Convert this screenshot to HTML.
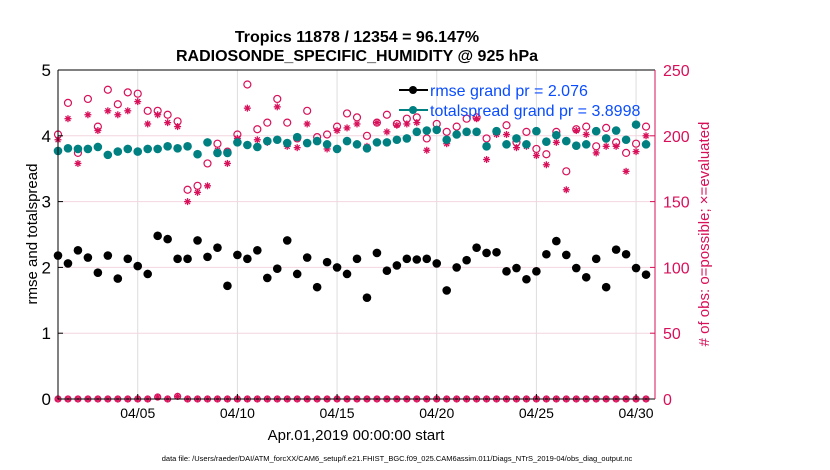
<!DOCTYPE html>
<html><head><meta charset="utf-8"><style>
body{margin:0;background:#fff;}
svg{display:block;font-family:"Liberation Sans",Arial,sans-serif;}
</style></head><body>
<svg id="chart" width="830" height="470" viewBox="0 0 830 470">
<text x="357" y="42" text-anchor="middle" font-size="16" font-weight="bold">Tropics 11878 / 12354 = 96.147%</text>
<text x="357" y="61" text-anchor="middle" font-size="16" font-weight="bold">RADIOSONDE_SPECIFIC_HUMIDITY @ 925 hPa</text>
<g id="grid"></g>
<g id="marks"></g>
<g id="axes"></g>
<text transform="translate(37,234) rotate(-90)" text-anchor="middle" font-size="15">rmse and totalspread</text>
<text transform="translate(709,234) rotate(-90)" text-anchor="middle" font-size="15" fill="#d8105a"># of obs: o=possible; ×=evaluated</text>
<text x="356" y="440" text-anchor="middle" font-size="15">Apr.01,2019 00:00:00 start</text>
<text x="397" y="461" text-anchor="middle" font-size="7.5">data file: /Users/raeder/DAI/ATM_forcXX/CAM6_setup/f.e21.FHIST_BGC.f09_025.CAM6assim.011/Diags_NTrS_2019-04/obs_diag_output.nc</text>
<g>
<line x1="399" y1="90" x2="428" y2="90" stroke="#000" stroke-width="2"/>
<circle cx="413" cy="90" r="4" fill="#000"/>
<text x="430" y="96" font-size="16" fill="#0a4dff">rmse grand pr = 2.076</text>
<line x1="399" y1="110" x2="428" y2="110" stroke="#008080" stroke-width="2"/>
<circle cx="413" cy="110" r="4" fill="#008080"/>
<text x="430" y="116" font-size="16" fill="#0a4dff">totalspread grand pr = 3.8998</text>
</g>
</svg>
<script>
const rmse=[2.18,2.06,2.26,2.15,1.92,2.18,1.83,2.13,2.02,1.90,2.48,2.43,2.13,2.13,2.41,2.16,2.30,1.72,2.19,2.13,2.26,1.84,1.98,2.41,1.90,2.15,1.70,2.08,2.00,1.90,2.13,
1.54,2.22,1.95,2.03,2.13,2.12,2.13,2.06,1.65,2.00,2.11,2.30,2.22,2.23,1.94,1.99,1.82,1.94,2.20,2.40,2.19,1.99,1.85,2.13,1.70,2.27,2.20,1.99,1.89];
const spread=[3.77,3.81,3.80,3.80,3.83,3.71,3.76,3.80,3.76,3.80,3.80,3.84,3.81,3.84,3.72,3.90,3.74,3.74,3.90,3.86,3.83,3.92,3.94,3.89,3.98,3.89,3.92,3.87,3.80,3.92,3.87,
3.81,3.90,3.90,3.94,3.96,4.06,4.08,4.09,3.94,4.02,4.06,4.06,3.84,4.07,3.87,3.96,3.87,4.07,3.91,4.01,3.92,3.85,3.87,4.07,3.96,4.08,3.94,4.17,3.87];
const possible=[201,225,187,228,207,235,224,233,232,219,219,216,211,159,162,179,194,188,201,239,205,210,228,210,198,219,199,201,207,217,214,
200,210,216,209,213,214,198,209,203,207,213,214,198,203,208,195,203,190,186,203,173,205,207,192,206,195,187,194,207];
const evaluated=[197,213,179,216,204,219,216,219,226,209,216,210,207,150,157,162,189,179,198,221,197,195,222,192,191,209,196,190,204,206,209,
192,210,203,208,209,210,189,205,194,201,203,213,182,201,201,191,192,185,178,195,159,204,201,187,192,192,173,188,200];
const zeroObs=[0,0,0,0,0,0,0,0,0,0,1.5,0,2,0,0,0,0,0,0,0,0,0,0,0,0,0,0,0,0,0,0,0,0,0,0,0,0,0,0,0,0,0,0,0,0,0,0,0,0,0,0,0,0,0,0,0,0,0,0,0];
const leftTicks=[0,1,2,3,4,5];
const rightTicks=[0,50,100,150,200,250];
const dateTicks=[4,9,14,19,24,29];
const dateLabels=["04/05","04/10","04/15","04/20","04/25","04/30"];

const L=58,R=655,T=70,B=399;
const X=d=>L+d*(R-L)/29.95;
const YL=v=>B-v*(B-T)/5;
const YR=v=>B-v*(B-T)/250;
const dayOf=i=>i*0.5;
const NS="http://www.w3.org/2000/svg";
function mk(tag,attrs,parent){const e=document.createElementNS(NS,tag);for(const k in attrs)e.setAttribute(k,attrs[k]);parent.appendChild(e);return e;}
const grid=document.getElementById('grid'),marks=document.getElementById('marks'),axes=document.getElementById('axes');

dateTicks.forEach((d,k)=>{
  const g=mk('line',{x1:X(d),x2:X(d),y1:T,y2:B,stroke:'#dcdcdc','stroke-width':1},grid);
  
  
  const t=mk('line',{x1:X(d),x2:X(d),y1:B,y2:B-5,stroke:'#000'},axes);
  
  
  const lb=mk('text',{x:X(d),y:B+19,'text-anchor':'middle','font-size':14},axes);
  lb.textContent=dateLabels[k];
  
  
});
rightTicks.forEach(v=>{
  if(v>0&&v<250){const g=mk('line',{x1:L,x2:R,y1:YR(v),y2:YR(v),stroke:'#f3d6e0','stroke-width':1},grid);
  
  }
  const t=mk('line',{x1:R,x2:R-5,y1:YR(v),y2:YR(v),stroke:'#d8105a'},axes);
  
  
  const lb=mk('text',{x:R+8,y:YR(v)+6,'font-size':16,fill:'#d8105a'},axes);
  lb.textContent=v;
  
  
});
leftTicks.forEach(v=>{
  const t=mk('line',{x1:L,x2:L+5,y1:YL(v),y2:YL(v),stroke:'#000'},axes);
  
  
  const lb=mk('text',{x:L-7,y:YL(v)+6,'text-anchor':'end','font-size':17},axes);
  lb.textContent=v;
  
  
});
let a=mk('line',{x1:L,x2:L,y1:T,y2:B,stroke:'#000'},axes);


a=mk('line',{x1:L,x2:R,y1:B,y2:B,stroke:'#000'},axes);


a=mk('line',{x1:L,x2:R,y1:T,y2:T,stroke:'#000'},axes);


a=mk('line',{x1:R,x2:R,y1:T,y2:B,stroke:'#d8105a'},axes);



function star(cx,cy,name){
  const g=mk('g',{stroke:'#d8105a','stroke-width':1.3},marks);
  
  
  const s=3.5;
  mk('line',{x1:cx-s,x2:cx+s,y1:cy,y2:cy},g);
  mk('line',{x1:cx,x2:cx,y1:cy-s,y2:cy+s},g);
  mk('line',{x1:cx-s*0.7,x2:cx+s*0.7,y1:cy-s*0.7,y2:cy+s*0.7},g);
  mk('line',{x1:cx-s*0.7,x2:cx+s*0.7,y1:cy+s*0.7,y2:cy-s*0.7},g);
}
possible.forEach((v,i)=>{
  const c=mk('circle',{cx:X(dayOf(i)),cy:YR(v),r:3.5,fill:'none',stroke:'#d8105a','stroke-width':1.2},marks);
  
  
});
evaluated.forEach((v,i)=>star(X(dayOf(i)),YR(v),'evaluated-point'));
zeroObs.forEach((v,i)=>{
  const c=mk('circle',{cx:X(dayOf(i)),cy:YR(v),r:3,fill:'none',stroke:'#d8105a','stroke-width':1.2},marks);
  
  
  star(X(dayOf(i)),YR(v),'zero-evaluated-point');
});
spread.forEach((v,i)=>{
  const c=mk('circle',{cx:X(dayOf(i)),cy:YL(v),r:4.3,fill:'#008080'},marks);
  
  
});
rmse.forEach((v,i)=>{
  const c=mk('circle',{cx:X(dayOf(i)),cy:YL(v),r:4.3,fill:'#000'},marks);
  
  
});
</script>
</body></html>
